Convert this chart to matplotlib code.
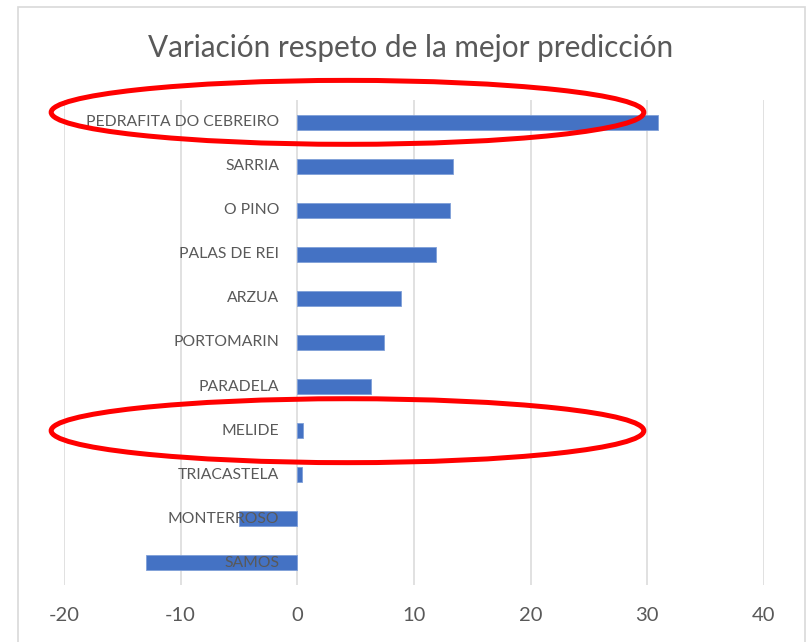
import matplotlib.pyplot as plt
from matplotlib.patches import Ellipse, Rectangle
from matplotlib.transforms import ScaledTranslation

# datos (de abajo a arriba)
municipios = ['SAMOS', 'MONTERROSO', 'TRIACASTELA', 'MELIDE', 'PARADELA',
              'PORTOMARIN', 'ARZUA', 'PALAS DE REI', 'O PINO', 'SARRIA',
              'PEDRAFITA DO CEBREIRO']
variacion = [-13.0, -5.0, 0.4, 0.5, 6.3, 7.4, 8.9, 11.9, 13.1, 13.3, 30.9]
marcados = ['PEDRAFITA DO CEBREIRO', 'MELIDE']
x_ticks = [-20, -10, 0, 10, 20, 30, 40]

gris = '#595959'
plt.rcParams['font.family'] = ['Lato', 'DejaVu Sans']

fig = plt.figure(figsize=(8.07, 6.42), dpi=100)
ax = fig.add_axes([64/807, (642-585)/642, 700/807, 485/642])

pos = list(range(len(municipios)))
ax.barh(pos, variacion, height=0.34, color='#4472C4', edgecolor='#7F9FD8',
        linewidth=0.6, zorder=3)

# etiquetas junto al eje 0
off = ScaledTranslation(-18/100, 0, fig.dpi_scale_trans)
for i, nombre in enumerate(municipios):
    ax.text(0, i, nombre, ha='right', va='center', fontsize=11.3, color=gris,
            transform=ax.transData + off, zorder=4)

ax.set_xlim(-20, 40)
ax.set_ylim(-0.5, len(municipios) - 0.5)
ax.set_xticks(x_ticks)
ax.set_xticklabels([str(t) for t in x_ticks], fontsize=14.5, color=gris)
ax.tick_params(axis='x', length=0, pad=16)
ax.set_yticks([])
ax.grid(axis='x', color='#D9D9D9', linewidth=1.1, zorder=0)
for s in ax.spines.values():
    s.set_visible(False)

fig.text(0.5 + 7/807, 1 - 48/642, 'Variación respeto de la mejor predicción',
         ha='center', va='center', fontsize=21.4, color=gris)

# elipses rojas
for nombre in marcados:
    i = municipios.index(nombre)
    dy = 0.22 if i == len(municipios) - 1 else 0.0
    ax.add_patch(Ellipse((4.3, i + dy), 50.8, 1.45, fill=False,
                         edgecolor='#FF0000', linewidth=3.6, clip_on=False,
                         zorder=5))

# borde del gráfico
fig.patches.append(Rectangle((18/807, -0.05), 787/807, 1.05 - 7/642,
                             transform=fig.transFigure, fill=False,
                             edgecolor='#D9D9D9', linewidth=1.2))

fig.savefig('out.png', dpi=100)
